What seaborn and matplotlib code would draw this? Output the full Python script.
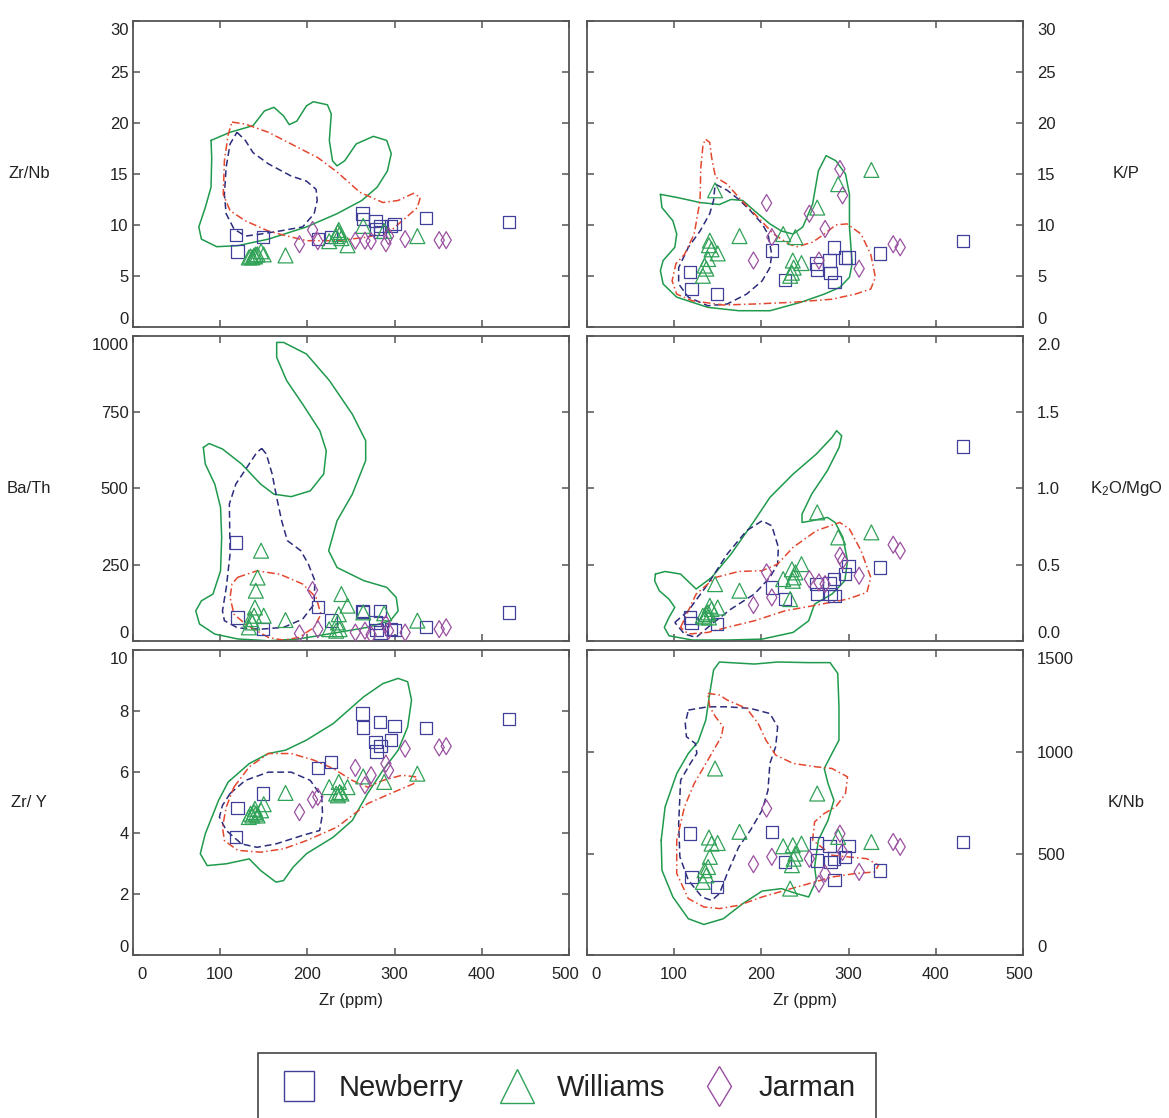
import matplotlib
matplotlib.use("Agg")
import matplotlib.pyplot as plt
from matplotlib.lines import Line2D
from matplotlib.transforms import ScaledTranslation
import numpy as np
import pandas as pd
import seaborn as sns

# ---------------- data ----------------
groups = ["Newberry", "Williams", "Jarman"]

zr_newberry = [118, 120, 149, 212, 227, 263, 264, 278, 279, 283, 284, 296, 300, 336, 431]
zr_williams = [133, 135, 137, 139, 140, 141, 143, 147, 150, 175, 225, 233, 235, 236, 237, 239, 246, 264, 288, 326]
zr_jarman = [191, 206, 212, 255, 266, 273, 290, 293, 312, 351, 359]

# Zr/Nb
zrnb_newberry = [9.0, 7.4, 8.8, 8.6, 8.8, 11.1, 10.6, 10.4, 9.6, 9.3, 9.9, 9.9, 10.1, 10.7, 10.3]
zrnb_williams = [6.8, 6.9, 6.8, 7.0, 6.9, 7.1, 7.1, 7.4, 7.1, 7.0, 8.4, 8.9, 9.3, 9.5, 9.1, 8.7, 8.0, 9.9, 9.4, 8.9]
zrnb_jarman = [8.1, 9.5, 8.4, 8.45, 8.45, 8.4, 8.2, 8.9, 8.6, 8.5, 8.5]
# K/P
kp_newberry = [5.4, 3.7, 3.2, 7.5, 4.6, 6.2, 5.6, 6.5, 5.3, 7.8, 4.4, 6.8, 6.8, 7.2, 8.4]
kp_williams = [5.0, 6.0, 5.7, 6.65, 8.0, 8.45, 7.6, 13.4, 7.2, 8.9, 9.1, 5.0, 5.3, 6.5, 5.8, 8.8, 6.25, 11.7, 14.0, 15.4]
kp_jarman = [6.5, 12.15, 8.8, 11.1, 6.5, 9.6, 15.5, 12.9, 5.7, 8.1, 7.8]
# Ba/Th
bath_newberry = [323, 77, 39, 112, 67, 99, 95, 61, 36, 99, 28, 39, 36, 47, 94]
bath_williams = [45, 72, 61, 83, 110, 165, 208, 296, 83, 69, 39, 34, 61, 88, 39, 154, 116, 94, 91, 67]
bath_jarman = [25, 167, 39, 28, 34, 21, 56, 34, 28, 39, 45]
# K2O/MgO
kmg_newberry = [0.155, 0.118, 0.111, 0.352, 0.275, 0.373, 0.308, 0.378, 0.308, 0.406, 0.297, 0.439, 0.493, 0.483, 1.275]
kmg_williams = [0.166, 0.155, 0.177, 0.188, 0.155, 0.231, 0.21, 0.373, 0.22, 0.33, 0.406, 0.275, 0.47, 0.395, 0.417, 0.45, 0.504, 0.843, 0.679, 0.712]
kmg_jarman = [0.236, 0.45, 0.286, 0.406, 0.384, 0.373, 0.559, 0.526, 0.428, 0.631, 0.592]
# Zr/Y
zry_newberry = [3.87, 4.82, 5.30, 6.14, 6.33, 7.92, 7.46, 6.98, 6.68, 7.64, 6.85, 7.05, 7.52, 7.45, 7.74]
zry_williams = [4.53, 4.64, 4.58, 4.69, 4.80, 4.64, 4.58, 4.75, 4.95, 5.32, 5.51, 5.30, 5.24, 5.68, 5.35, 5.30, 5.51, 5.86, 5.68, 5.95]
zry_jarman = [4.69, 5.10, 5.19, 6.14, 5.57, 5.90, 6.28, 6.06, 6.77, 6.81, 6.85]
# K/Nb
knb_newberry = [598, 385, 336, 607, 459, 552, 467, 536, 459, 475, 369, 484, 536, 418, 557]
knb_williams = [361, 418, 393, 434, 579, 484, 549, 918, 552, 607, 536, 328, 443, 541, 475, 500, 549, 795, 582, 557]
knb_jarman = [448, 721, 484, 475, 352, 402, 598, 508, 410, 557, 533]

# ---------------- field outlines (Zr, ratio) ----------------
zrnb_field_williams = [(89.7, 18.3), (111.5, 19.1), (137.8, 19.75), (150.9, 21.2), (161.8, 21.55), (172.8, 20.7),
    (179.3, 19.85), (188, 20.2), (199, 21.7), (206.9, 22.1), (223, 21.8), (227.4, 20.9), (225.2, 18.3), (228.8, 16.3),
    (234, 15.8), (242.8, 16.3), (255.9, 17.95), (275.6, 18.7), (290.9, 18.3), (296.1, 17.0), (291.7, 15.3),
    (279.9, 13.7), (262.4, 12.4), (234, 11.1), (199, 9.8), (155.3, 8.6), (120.3, 7.96), (96.2, 7.86), (78.7, 8.6),
    (75.7, 9.8), (83.1, 11.7), (89.7, 13.7), (90.5, 16.6)]
zrnb_field_newberry = [(119.4, 19.1), (129, 18.3), (137.8, 17.1), (155.3, 16.0), (181.5, 14.8), (199, 14.3),
    (210, 13.5), (211.3, 12.4), (207.8, 11.1), (194.6, 9.8), (168.4, 9.4), (146.5, 9.1), (129, 8.9), (116, 9.6),
    (107, 11.1), (105, 13.0), (107, 15.65), (111.5, 17.95)]
zrnb_field_jarman = [(113.7, 20.1), (129, 19.9), (155.3, 19.1), (181.5, 17.95), (212.1, 16.6), (234, 15.2),
    (260.3, 13.2), (286.5, 12.2), (304, 12.4), (321.5, 13.1), (329.4, 12.7), (325.9, 11.7), (312.7, 10.7),
    (295.2, 9.4), (269, 8.8), (234, 8.45), (199, 8.45), (177, 8.9), (155.3, 9.4), (129, 10.4), (111.5, 11.4),
    (103.7, 13.0), (105, 16.3), (109.4, 18.9)]

kp_field_williams = [(84.4, 13.0), (103.1, 12.7), (129.8, 12.2), (152, 12.0), (165.3, 12.5), (178.7, 12.4),
    (192, 11.4), (209.8, 10.1), (223, 9.4), (236.4, 9.1), (247.5, 9.8), (258.7, 12.05), (265.3, 15.3),
    (274.2, 16.8), (285.3, 16.3), (296.4, 15.0), (300.9, 13.0), (300.9, 9.8), (304, 6.2), (300.9, 4.85),
    (289.8, 3.86), (272, 3.2), (245.3, 2.4), (209.8, 1.57), (174.2, 1.57), (138.7, 1.9), (103.1, 2.9),
    (87.5, 4.2), (84.4, 5.5), (87.5, 6.5), (100.9, 7.8), (103.1, 9.1), (98.7, 10.4), (86.2, 11.7)]
kp_field_newberry = [(147.5, 14.0), (160.9, 13.4), (174.2, 12.5), (187.5, 11.4), (200.9, 10.1), (207.6, 9.1),
    (211.9, 7.1), (209.8, 5.8), (200.9, 4.5), (183.1, 3.2), (160.9, 2.23), (138.7, 2.06), (116.4, 2.9),
    (105.3, 4.2), (105.3, 5.8), (116.4, 7.8), (129.8, 9.4), (140.9, 11.1), (145.3, 12.4), (146.7, 13.7)]
kp_field_jarman = [(136.4, 18.4), (140.9, 18.1), (143.1, 16.6), (147.5, 14.7), (160.9, 14.0), (174.2, 12.7),
    (192, 11.1), (214.2, 9.1), (231.9, 8.1), (240.8, 7.86), (258.7, 8.3), (272, 9.1), (285.3, 10.0),
    (298.2, 10.1), (314.2, 9.1), (325.3, 7.1), (330.6, 4.85), (325.3, 3.7), (307.5, 3.2), (280.9, 2.7),
    (236.4, 2.4), (192, 2.23), (156.4, 2.13), (120.9, 2.55), (103.1, 3.2), (97.8, 4.5), (102.2, 6.2),
    (112, 7.1), (123.1, 9.1), (129.8, 12.4), (130.7, 15.65), (133.3, 17.95)]

bath_field_williams = [(80.9, 634), (87.5, 647), (102.8, 629), (124.7, 580), (146.5, 514), (161.8, 481),
    (181.5, 473), (203.4, 492), (218.7, 547), (221.7, 623), (214.3, 689), (194.6, 776), (176.3, 853),
    (164.9, 929), (164.9, 978), (172.8, 978), (199, 940), (225.3, 853), (251.5, 743), (266.8, 656),
    (266.8, 591), (251.5, 481), (234, 394), (224.4, 296), (234, 241), (264.6, 198), (290.9, 176),
    (301.8, 143), (304, 99), (295.2, 67), (269, 45), (234, 28), (190.3, 7), (155.3, 1), (120.3, 7),
    (94, 23), (76.5, 56), (72.2, 99), (78.7, 132), (91.9, 154), (100.6, 230), (101.9, 340), (100.6, 438),
    (94, 514), (83.1, 580)]
bath_field_newberry = [(147.8, 631), (153.1, 612), (159.7, 547), (164.9, 470), (170.6, 394), (177.1, 329),
    (192.5, 296), (201.2, 252), (208.6, 198), (207.8, 121), (194.6, 72), (172.8, 45), (146.5, 39),
    (120.3, 43), (105, 67), (102.8, 99), (107.2, 176), (111.5, 285), (110.7, 449), (118.1, 514),
    (133.4, 580), (142.2, 618)]
bath_field_jarman = [(120.3, 209), (142.2, 230), (168.4, 219), (194.6, 187), (210, 143), (215.6, 88),
    (207.8, 45), (190.3, 12), (172.8, 3), (155.3, 12), (129, 56), (116, 88), (111.5, 143), (113.7, 187)]

kmg_field_williams = [(78.7, 0.439), (89.8, 0.456), (107.5, 0.439), (125.3, 0.341), (143.1, 0.417),
    (165.3, 0.57), (192, 0.788), (209.8, 0.941), (236.4, 1.094), (263, 1.225), (280.9, 1.334), (286.2, 1.378),
    (292, 1.345), (289.1, 1.269), (275.6, 1.116), (257.7, 0.963), (246.6, 0.832), (246.6, 0.777),
    (257.7, 0.788), (275.6, 0.81), (284.5, 0.777), (293.4, 0.679), (298.7, 0.526), (295.6, 0.395),
    (280.9, 0.308), (260.9, 0.242), (254.2, 0.133), (236.4, 0.057), (200.9, 0.013), (160.9, 0.007),
    (120.9, 0.007), (94.2, 0.035), (88.9, 0.09), (94.2, 0.155), (100.9, 0.221), (94.2, 0.275),
    (83.1, 0.33), (77.8, 0.395)]
kmg_field_newberry = [(100.9, 0.122), (116.4, 0.199), (138.7, 0.373), (160.9, 0.57), (183.1, 0.723),
    (200.9, 0.788), (212, 0.755), (219.5, 0.614), (218.6, 0.504), (209.8, 0.417), (192, 0.308),
    (165.3, 0.21), (143.1, 0.111), (125.3, 0.024), (112, 0.046)]
kmg_field_jarman = [(107.5, 0.09), (125.3, 0.308), (147.5, 0.417), (174.2, 0.456), (200.9, 0.461),
    (218.6, 0.504), (236.4, 0.614), (263, 0.723), (289.8, 0.777), (300.9, 0.734), (314.2, 0.592),
    (325.3, 0.417), (320.9, 0.319), (298.7, 0.275), (258.7, 0.231), (227.5, 0.199), (192, 0.133),
    (160.9, 0.09), (138.7, 0.057), (116.4, 0.046)]

zry_field_williams = [(111.5, 5.73), (133.4, 6.28), (155.3, 6.61), (175, 6.72), (199, 7.05), (229.6, 7.59),
    (264.6, 8.47), (286.5, 8.9), (304, 9.07), (314.9, 8.96), (319.3, 8.36), (314.9, 7.48), (304, 6.72),
    (286.5, 6.06), (269, 5.3), (251.5, 4.42), (229.6, 3.87), (199, 3.33), (183.7, 2.89), (172.8, 2.45),
    (164, 2.4), (146.5, 2.78), (133.4, 3.16), (107.2, 3.0), (85.3, 2.94), (77.4, 3.33), (83.1, 3.98),
    (98.4, 5.08), (109.4, 5.68)]
zry_field_newberry = [(111.5, 5.3), (129, 5.73), (155.3, 6.0), (181.5, 6.0), (203.4, 5.73), (216.5, 5.19),
    (217.4, 4.64), (214.1, 4.09), (194.6, 3.93), (164, 3.65), (142.2, 3.54), (124.7, 3.65), (107.2, 4.09),
    (99.3, 4.53), (102.8, 4.91)]
zry_field_jarman = [(115.9, 5.51), (133.4, 6.17), (155.3, 6.61), (181.5, 6.61), (207.8, 6.39), (229.6, 6.12),
    (251.5, 5.73), (269, 5.51), (286.5, 5.73), (308.4, 5.9), (325.9, 5.84), (321.5, 5.62), (295.2, 5.3),
    (269, 4.97), (234, 4.2), (199, 3.76), (172.8, 3.49), (146.5, 3.38), (120.3, 3.44), (105, 3.76),
    (102.8, 4.2), (107.2, 4.86)]

knb_field_williams = [(85.3, 566), (89.8, 730), (103.1, 893), (116.4, 992), (127.5, 1049), (136.4, 1156),
    (140.9, 1287), (145.3, 1402), (152, 1441), (192, 1431), (218.7, 1441), (254.2, 1438), (278.7, 1438),
    (287.5, 1385), (288.9, 1221), (288.9, 1057), (280.9, 992), (272, 918), (276.4, 844), (283.1, 762),
    (276.4, 664), (265.3, 566), (261, 434), (263, 369), (254.2, 287), (240.8, 303), (223.1, 328),
    (200.9, 316), (178.7, 254), (156.4, 180), (134.2, 152), (116.4, 180), (98.7, 287), (86.2, 418)]
knb_field_newberry = [(116.4, 1205), (138.7, 1221), (160.9, 1221), (187.5, 1213), (209.8, 1188),
    (218.7, 1123), (216.4, 1025), (209.8, 943), (207.6, 811), (200.9, 713), (187.5, 615), (174.2, 533),
    (160.9, 402), (152, 303), (143.1, 270), (132, 287), (116.4, 369), (106.7, 484), (105.3, 648),
    (107.6, 861), (118.7, 943), (126.2, 992), (124.4, 1041), (114.2, 1074), (112.9, 1139)]
knb_field_jarman = [(138.7, 1287), (152, 1279), (160.9, 1254), (183.1, 1213), (196.4, 1139), (205.3, 1057),
    (216.4, 984), (236.4, 943), (263, 926), (280.9, 918), (298.7, 877), (296.4, 795), (285.3, 730),
    (272, 697), (261, 656), (258.7, 566), (280.9, 492), (298.7, 484), (320.9, 475), (334.2, 443),
    (329.8, 410), (307.5, 402), (280.9, 385), (254.2, 352), (227.5, 320), (200.9, 287), (174.2, 246),
    (152, 230), (134.2, 238), (116.4, 279), (103.1, 402), (103.1, 566), (112, 730), (123.1, 844),
    (134.2, 926), (145.3, 1008), (154.2, 1074), (156.4, 1123), (147.5, 1172), (140.9, 1221)]

# ---------------- style ----------------
sns.set_style("white")
plt.rcParams["font.family"] = ["Liberation Sans", "DejaVu Sans"]
plt.rcParams["mathtext.fontset"] = "custom"
plt.rcParams["mathtext.rm"] = "Liberation Sans"
plt.rcParams["mathtext.it"] = "Liberation Sans"

MARK = {"Newberry": "#40409a", "Williams": "#30a257", "Jarman": "#9a50a0"}
LINE = {"Newberry": "#2c2c7c", "Williams": "#1f9a4c", "Jarman": "#e4472f"}
SHAPE = {"Newberry": "s", "Williams": "^", "Jarman": "d"}
SIZE = {"Newberry": 80, "Williams": 115, "Jarman": 75}
LS = {"Newberry": (0, (4.5, 2.5)), "Williams": "-", "Jarman": (0, (5, 2, 1, 2))}
SPINE = "#555555"
TXT = "#222222"

zr = {"Newberry": zr_newberry, "Williams": zr_williams, "Jarman": zr_jarman}

panels = [
    dict(row=0, col=0, label="Zr/Nb", ylim=(0, 30), yticks=[0, 5, 10, 15, 20, 25, 30], fmt="{:.0f}",
         vals={"Newberry": zrnb_newberry, "Williams": zrnb_williams, "Jarman": zrnb_jarman},
         fields={"Williams": zrnb_field_williams, "Newberry": zrnb_field_newberry, "Jarman": zrnb_field_jarman}),
    dict(row=0, col=1, label="K/P", ylim=(0, 30), yticks=[0, 5, 10, 15, 20, 25, 30], fmt="{:.0f}",
         vals={"Newberry": kp_newberry, "Williams": kp_williams, "Jarman": kp_jarman},
         fields={"Williams": kp_field_williams, "Newberry": kp_field_newberry, "Jarman": kp_field_jarman}),
    dict(row=1, col=0, label="Ba/Th", ylim=(0, 1000), yticks=[0, 250, 500, 750, 1000], fmt="{:.0f}",
         vals={"Newberry": bath_newberry, "Williams": bath_williams, "Jarman": bath_jarman},
         fields={"Williams": bath_field_williams, "Newberry": bath_field_newberry, "Jarman": bath_field_jarman}),
    dict(row=1, col=1, label=r"K$_2$O/MgO", ylim=(0, 2), yticks=[0, 0.5, 1.0, 1.5, 2.0], fmt="{:.1f}",
         vals={"Newberry": kmg_newberry, "Williams": kmg_williams, "Jarman": kmg_jarman},
         fields={"Williams": kmg_field_williams, "Newberry": kmg_field_newberry, "Jarman": kmg_field_jarman}),
    dict(row=2, col=0, label="Zr/ Y", ylim=(0, 10), yticks=[0, 2, 4, 6, 8, 10], fmt="{:.0f}",
         vals={"Newberry": zry_newberry, "Williams": zry_williams, "Jarman": zry_jarman},
         fields={"Williams": zry_field_williams, "Newberry": zry_field_newberry, "Jarman": zry_field_jarman}),
    dict(row=2, col=1, label="K/Nb", ylim=(0, 1500), yticks=[0, 500, 1000, 1500], fmt="{:.0f}",
         vals={"Newberry": knb_newberry, "Williams": knb_williams, "Jarman": knb_jarman},
         fields={"Williams": knb_field_williams, "Newberry": knb_field_newberry, "Jarman": knb_field_jarman}),
]

W_PX, H_PX = 1169, 1118
fig = plt.figure(figsize=(W_PX / 100, H_PX / 100), dpi=100)

col_left = [132.7, 586.7]
row_top = [21.3, 335.7, 650.0]
ax_w, ax_h = 436.6, 305.4
ylabel_x = [29, 1126]


def nudge(label, dx_px, dy_px):
    label.set_transform(label.get_transform() +
                        ScaledTranslation(dx_px / 100, dy_px / 100, fig.dpi_scale_trans))


axes_info = []
for p in panels:
    l = col_left[p["col"]] / W_PX
    b = 1 - (row_top[p["row"]] + ax_h) / H_PX
    ax = fig.add_axes([l, b, ax_w / W_PX, ax_h / H_PX])

    for g in ["Williams", "Newberry", "Jarman"]:
        pts = p["fields"][g] + [p["fields"][g][0]]
        fdf = pd.DataFrame(pts, columns=["x", "y"])
        sns.lineplot(data=fdf, x="x", y="y", sort=False, estimator=None, ax=ax,
                     color=LINE[g], linewidth=1.1, linestyle=LS[g], zorder=2)

    for g in groups:
        df = pd.DataFrame({"Zr": zr[g], "val": p["vals"][g]})
        sns.scatterplot(data=df, x="Zr", y="val", ax=ax, marker=SHAPE[g], s=SIZE[g],
                        color=MARK[g], facecolor="none", edgecolor=MARK[g], linewidth=0.9,
                        legend=False, zorder=3)

    ax.set_xlim(0, 500)
    ax.set_ylim(*p["ylim"])
    ax.set_xticks([0, 100, 200, 300, 400, 500])
    ax.set_yticks(p["yticks"])
    ax.set_yticklabels([p["fmt"].format(v) for v in p["yticks"]])
    ax.set_ylabel("")
    ax.set_xlabel("")
    for s in ax.spines.values():
        s.set_color(SPINE)
        s.set_linewidth(1.3)
    right = p["col"] == 1
    bottom = p["row"] == 2
    ax.tick_params(axis="both", direction="in", length=5, width=1.1, color=SPINE,
                   top=True, bottom=True, left=True, right=True, labelsize=12, labelcolor=TXT)
    ax.tick_params(axis="y", labelleft=not right, labelright=right, pad=10 if right else 3)
    ax.tick_params(axis="x", labelbottom=bottom, pad=8)
    if bottom:
        ax.set_xlabel("Zr (ppm)", fontsize=12, color=TXT, labelpad=8)

    yc = 1 - (row_top[p["row"]] + ax_h / 2) / H_PX
    fig.text(ylabel_x[p["col"]] / W_PX, yc, p["label"], ha="center", va="center",
             fontsize=12, color=TXT)
    axes_info.append((ax, right, bottom))

# nudge the end tick labels inward, as in the reference
for ax, right, bottom in axes_info:
    yt = ax.yaxis.get_major_ticks()
    for t, dy in ((yt[0], 9), (yt[-1], -8)):
        nudge(t.label2 if right else t.label1, 0, dy)
    if bottom:
        xt = ax.xaxis.get_major_ticks()
        nudge(xt[0].label1, 9, 0)
        nudge(xt[-1].label1, -4, 0)

handles = [Line2D([], [], linestyle="none", marker=SHAPE[g], markersize=ms,
                  markerfacecolor="none", markeredgecolor=MARK[g], markeredgewidth=1.0)
           for g, ms in zip(groups, [21, 24, 20])]
leg = fig.legend(handles, groups, loc="upper center", bbox_to_anchor=(567 / W_PX, 1 - 1053 / H_PX),
                 ncol=3, frameon=True, fancybox=False, edgecolor="#444444", fontsize=21,
                 handlelength=1.4, handletextpad=0.65, columnspacing=1.15, borderpad=0.72,
                 borderaxespad=0, framealpha=1)
leg.get_frame().set_linewidth(1.2)
for t in leg.get_texts():
    t.set_color(TXT)

fig.savefig("out.png", dpi=100)
